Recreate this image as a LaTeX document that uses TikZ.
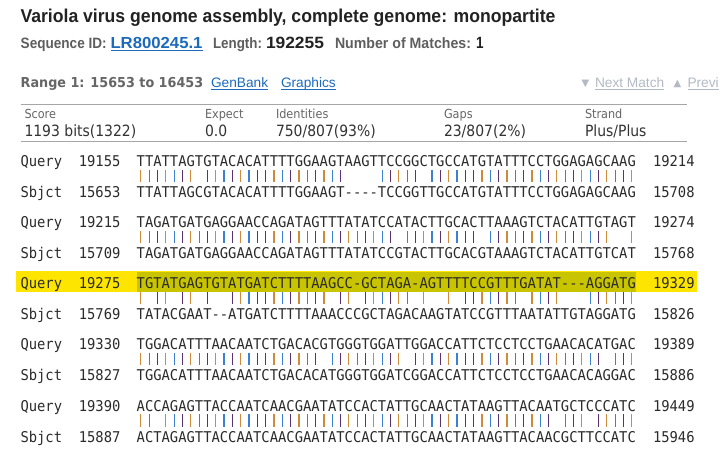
\documentclass[tikz,border=0pt]{standalone}
\usepackage{fontspec}
\usepackage{graphicx}
\setmainfont{Liberation Sans}
\setmonofont{DejaVu Sans Mono}[FakeStretch=0.93]
\newfontfamily\tabfont{DejaVu Sans}[FakeStretch=0.9]
\newfontfamily\symfont{DejaVu Sans}
\definecolor{titlecol}{HTML}{222222}
\definecolor{labcol}{HTML}{5E5E5E}
\definecolor{valcol}{HTML}{222222}
\definecolor{linkcol}{HTML}{1C6BBA}
\definecolor{rangecol}{HTML}{666666}
\definecolor{navcol}{HTML}{B3BAC4}
\definecolor{rulecol}{HTML}{A6A6A6}
\definecolor{headcol}{HTML}{666666}
\definecolor{tabval}{HTML}{333333}
\definecolor{seqcol}{HTML}{2B2B2B}
\definecolor{hlyellow}{HTML}{FEE500}
\definecolor{hlolive}{HTML}{C9C400}
\definecolor{barA}{HTML}{3D80D2}
\definecolor{barB}{HTML}{5A3470}
\definecolor{barC}{HTML}{CF8A3C}
\newcommand\fitw[2]{\resizebox{#1pt}{\height}{#2}}
\newcommand\matchbars[2]{%
  \foreach \a/\b in {#2}{%
    \foreach \p in {\a,...,\b}{%
      \pgfmathsetmacro\bx{136.7+(\p-0.5)*8.32}%
      \pgfmathtruncatemacro\ph{3*(\bx-floor(\bx))}%
      \ifcase\ph\relax\def\bc{barA}\or\def\bc{barB}\else\def\bc{barC}\fi
      \draw[\bc, line width=1.2pt] (\bx,#1+3) -- (\bx,#1+15.5);
    }}}
\begin{document}
\begin{tikzpicture}[x=1pt,y=-1pt,
  every node/.style={inner sep=0pt,outer sep=0pt,anchor=base west},
  seqtext/.style={text=seqcol,font=\ttfamily\fontsize{14.86}{16}\selectfont},
  linktext/.style={text=linkcol,font=\fontsize{13.7}{16}\selectfont},
  navtext/.style={text=navcol,font=\fontsize{13.7}{16}\selectfont},
  headtext/.style={text=headcol,font=\tabfont\fontsize{12.5}{14}\selectfont},
  valtext/.style={text=tabval,font=\tabfont\fontsize{15.5}{17}\selectfont},
  labtext/.style={text=labcol,font=\bfseries\fontsize{15}{17}\selectfont},
  numtext/.style={text=valcol,font=\bfseries\fontsize{16.3}{18}\selectfont}]
\fill[white] (0,0) rectangle (721,457);
\useasboundingbox (0,0) rectangle (721,457);

% title
\node[text=titlecol,font=\bfseries\fontsize{18.6}{21}\selectfont] (title) at (20.5,22.5)
  {\fitw{535}{Variola virus genome assembly, complete genome: monopartite}};

% sequence id line
\node[labtext] (sid) at (20.7,48.5) {\fitw{86}{Sequence ID:}};
\node[text=linkcol,font=\bfseries\fontsize{16}{18}\selectfont] (acc) at (110.5,48.5) {\fitw{92}{LR800245.1}};
\draw[linkcol,line width=1pt] ([yshift=-2.5pt]acc.base west) -- ([yshift=-2.5pt]acc.base east);
\node[labtext] (lenl) at (213,48.5) {\fitw{49}{Length:}};
\node[numtext] (lenv) at (266,48.5) {\fitw{58}{192255}};
\node[labtext] (nml) at (335,48.5) {\fitw{136}{Number of Matches:}};
\node[numtext] (nmv) at (476,48.5) {\fitw{7.5}{1}};

% range line
\node[text=rangecol,font=\symfont\bfseries\fontsize{13.7}{16}\selectfont] (range) at (20.7,87.3)
  {\fitw{182.5}{Range 1: 15653 to 16453}};
\node[linktext] (gb) at (211,87.3) {GenBank};
\draw[linkcol,line width=0.8pt] ([yshift=-2.5pt]gb.base west) -- ([yshift=-2.5pt]gb.base east);
\node[linktext] (gr) at (281,87.3) {Graphics};
\draw[linkcol,line width=0.8pt] ([yshift=-2.5pt]gr.base west) -- ([yshift=-2.5pt]gr.base east);
\node[text=navcol,font=\symfont\fontsize{10}{12}\selectfont] (tridown) at (581.5,86.5) {▼};
\node[navtext] (next) at (595,87.3) {Next Match};
\draw[navcol,line width=0.8pt] ([yshift=-2.5pt]next.base west) -- ([yshift=-2.5pt]next.base east);
\node[text=navcol,font=\symfont\fontsize{10}{12}\selectfont] (triup) at (673.5,86.5) {▲};
\node[navtext] (prev) at (687.5,87.3) {Previ};
\draw[navcol,line width=0.8pt] ([yshift=-2.5pt]prev.base west) -- ([yshift=-2.5pt]prev.base east);

% table
\draw[rulecol,line width=1pt] (20.5,105) -- (687,105);
\draw[rulecol,line width=1pt] (20.5,141.5) -- (687,141.5);
\node[headtext] (hscore) at (24.5,118.5) {Score};
\node[headtext] (hexp) at (205,118.5) {Expect};
\node[headtext] (hid) at (276,118.5) {Identities};
\node[headtext] (hgap) at (444,118.5) {Gaps};
\node[headtext] (hstr) at (585,118.5) {Strand};
\node[valtext] (vscore) at (24.5,136.3) {1193 bits(1322)};
\node[valtext] (vexp) at (205,136.3) {0.0};
\node[valtext] (vid) at (276,136.3) {750/807(93\%)};
\node[valtext] (vgap) at (444,136.3) {23/807(2\%)};
\node[valtext] (vstr) at (585,136.3) {Plus/Plus};

% highlight of the third query line
\fill[hlyellow] (16,271.5) rectangle (697,292.5);
\fill[hlolive] (136.5,272.5) rectangle (636.2,292.5);

% alignment
\foreach \k/\qs/\qq/\qe/\ss/\sq/\se in {
 0/19155/TTATTAGTGTACACATTTTGGAAGTAAGTTCCGGCTGCCATGTATTTCCTGGAGAGCAAG/19214/15653/TTATTAGCGTACACATTTTGGAAGT----TCCGGTTGCCATGTATTTCCTGGAGAGCAAG/15708,
 1/19215/TAGATGATGAGGAACCAGATAGTTTATATCCATACTTGCACTTAAAGTCTACATTGTAGT/19274/15709/TAGATGATGAGGAACCAGATAGTTTATATCCGTACTTGCACGTAAAGTCTACATTGTCAT/15768,
 2/19275/TGTATGAGTGTATGATCTTTTAAGCC-GCTAGA-AGTTTTCCGTTTGATAT---AGGATG/19329/15769/TATACGAAT--ATGATCTTTTAAACCCGCTAGACAAGTATCCGTTTAATATTGTAGGATG/15826,
 3/19330/TGGACATTTAACAATCTGACACGTGGGTGGATTGGACCATTCTCCTCCTGAACACATGAC/19389/15827/TGGACATTTAACAATCTGACACATGGGTGGATCGGACCATTCTCCTCCTGAACACAGGAC/15886,
 4/19390/ACCAGAGTTACCAATCAACGAATATCCACTATTGCAACTATAAGTTACAATGCTCCCATC/19449/15887/ACTAGAGTTACCAATCAACGAATATCCACTATTGCAACTATAAGTTACAACGCTTCCATC/15946}{
  \pgfmathsetmacro\qy{167+61*\k}
  \pgfmathsetmacro\sy{\qy+31}
  \node[seqtext] (ql\k) at (20.5,\qy) {Query};
  \node[seqtext] (qn\k) at (78.8,\qy) {\qs};
  \node[seqtext] (qseq\k) at (136.7,\qy) {\qq};
  \node[seqtext] (qe\k) at (653,\qy) {\qe};
  \node[seqtext] (sl\k) at (20.5,\sy) {Sbjct};
  \node[seqtext] (sn\k) at (78.8,\sy) {\ss};
  \node[seqtext] (sseq\k) at (136.7,\sy) {\sq};
  \node[seqtext] (se\k) at (653,\sy) {\se};
}
\matchbars{167}{1/7,9/25,30/34,36/60}
\matchbars{228}{1/31,33/41,43/57,60/60}
\matchbars{289}{1/1,3/4,6/7,9/9,12/23,25/26,28/33,35/35,38/38,40/46,48/51,55/60}
\matchbars{350}{1/22,24/32,34/56,58/60}
\matchbars{411}{1/2,4/50,52/54,56/60}
\end{tikzpicture}
\end{document}
